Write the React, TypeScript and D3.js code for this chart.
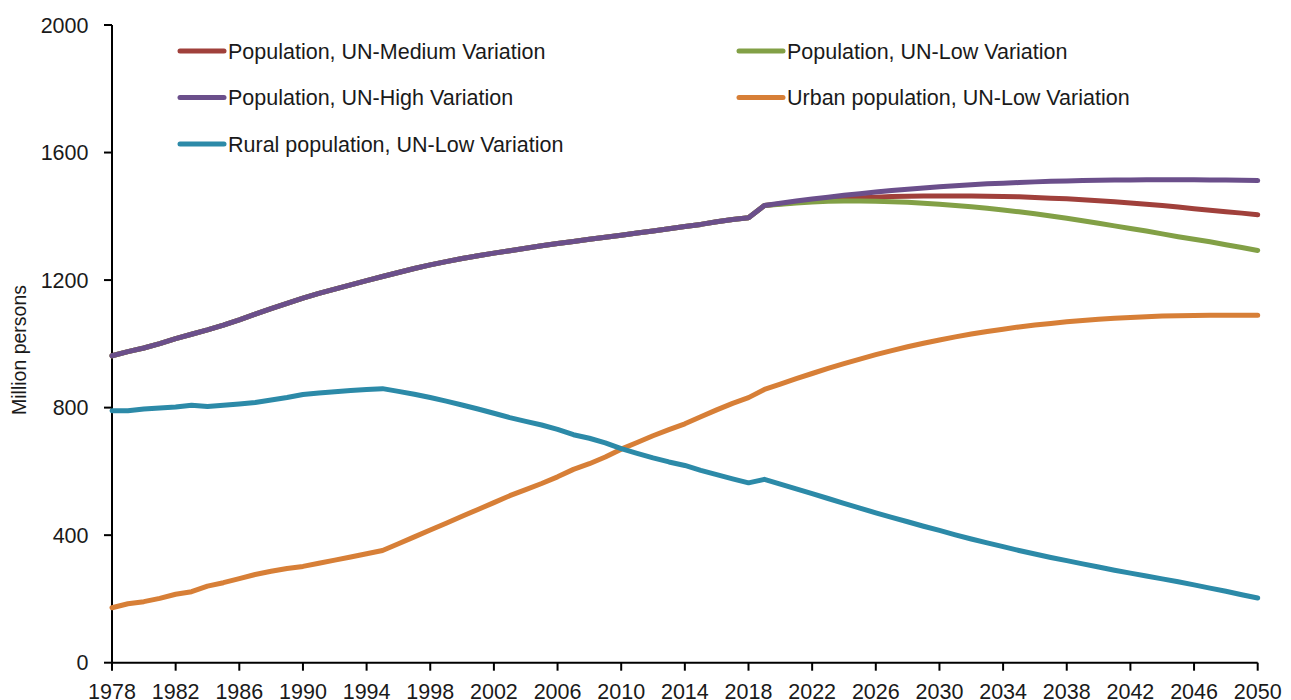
import * as d3 from 'd3'

// historical years 1978-2018, projections 2019-2050
const histYears = d3.range(1978, 2019)
const projYears = d3.range(2019, 2051)

const totalHist = [962.59, 975.42, 987.05, 1000.72, 1016.54, 1030.08, 1043.57, 1058.51, 1075.07, 1093.0, 1110.26, 1127.04, 1143.33, 1158.23, 1171.71, 1185.17, 1198.5, 1211.21, 1223.89, 1236.26, 1247.61, 1257.86, 1267.43, 1276.27, 1284.53, 1292.27, 1299.88, 1307.56, 1314.48, 1321.29, 1328.02, 1334.5, 1340.91, 1347.35, 1354.04, 1360.72, 1367.82, 1374.62, 1382.71, 1390.08, 1395.38]
const urbanHist = [172.45, 184.95, 191.4, 201.71, 214.8, 222.74, 240.17, 250.94, 263.66, 276.74, 286.61, 295.4, 301.95, 312.03, 321.75, 331.73, 341.69, 351.74, 373.04, 394.49, 416.08, 437.48, 459.06, 480.64, 502.12, 523.76, 542.83, 562.12, 582.88, 606.33, 624.03, 645.12, 669.78, 690.79, 711.82, 731.11, 749.16, 771.16, 792.98, 813.47, 831.37]
const ruralHist = [790.14, 790.47, 795.65, 799.01, 801.74, 807.34, 803.4, 807.57, 811.41, 816.26, 823.65, 831.64, 841.38, 846.2, 849.96, 853.44, 856.81, 859.47, 850.85, 841.77, 831.53, 820.38, 808.37, 795.63, 782.41, 768.51, 757.05, 745.44, 731.6, 714.96, 703.99, 689.38, 671.13, 656.56, 642.22, 629.61, 618.66, 603.46, 589.73, 576.61, 564.01]

const mediumProj = [1434, 1439, 1444, 1448, 1452, 1455, 1458, 1460, 1462, 1463, 1464, 1464, 1464, 1464, 1463, 1462, 1461, 1459, 1457, 1455, 1452, 1449, 1446, 1442, 1438, 1434, 1429, 1424, 1419, 1414, 1410, 1405]
const lowProj = [1434, 1438, 1442, 1445, 1447, 1448, 1448, 1447, 1446, 1444, 1441, 1438, 1434, 1430, 1425, 1420, 1414, 1408, 1401, 1394, 1386, 1378, 1370, 1362, 1354, 1345, 1336, 1328, 1320, 1311, 1302, 1293]
const highProj = [1434, 1441, 1448, 1454, 1460, 1466, 1471, 1476, 1481, 1485, 1489, 1493, 1496, 1499, 1502, 1504, 1506, 1508, 1510, 1511, 1512, 1513, 1514, 1514, 1515, 1515, 1515, 1515, 1514, 1514, 1513, 1512]
const urbanProj = [857, 874, 891, 907, 923, 938, 952, 966, 979, 991, 1002, 1012, 1022, 1031, 1039, 1046, 1053, 1059, 1064, 1069, 1073, 1077, 1080, 1083, 1085, 1087, 1088, 1089, 1090, 1090, 1090, 1090]
const ruralProj = [575, 560, 545, 530, 515, 500, 485, 470, 456, 442, 428, 415, 401, 388, 376, 364, 352, 341, 330, 320, 310, 300, 290, 281, 272, 263, 254, 244, 234, 224, 213, 203]

const seriesNames = [
  'Population, UN-Medium Variation',
  'Population, UN-Low Variation',
  'Population, UN-High Variation',
  'Urban population, UN-Low Variation',
  'Rural population, UN-Low Variation',
]
const seriesColors = ['#A0403B', '#82A046', '#6B4F8B', '#D77F37', '#2C8AA8']
const seriesValues = [
  [...totalHist, ...mediumProj],
  [...totalHist, ...lowProj],
  [...totalHist, ...highProj],
  [...urbanHist, ...urbanProj],
  [...ruralHist, ...ruralProj],
]
const years = [...histYears, ...projYears]

const yTicks = [0, 400, 800, 1200, 1600, 2000]
const xTicks = d3.range(1978, 2051, 4)

const W = 1291
const H = 700
const FONT = '"Liberation Sans", Arial, sans-serif'

// legend placement: [lineStartX, rowY]
const legendPos = [
  [180, 51],
  [739, 51],
  [180, 97.5],
  [739, 97.5],
  [180, 144],
]

export default function App() {
  const x = d3.scaleLinear().domain([1978, 2050]).range([112, 1257.7])
  const y = d3.scaleLinear().domain([0, 2000]).range([662.7, 25])

  const line = d3.line<number>()
    .x((_, i) => x(years[i]))
    .y(d => y(d))

  return (
    <svg width={W} height={H} style={{ position: 'absolute', left: 0, top: 0, background: '#fff' }}
      fontFamily={FONT}>
      {/* y axis */}
      <line x1={x(1978)} x2={x(1978)} y1={y(0)} y2={y(2000)} stroke="#000" strokeWidth={2} />
      {yTicks.map(t => (
        <g key={t}>
          <line x1={104} x2={x(1978)} y1={y(t)} y2={y(t)} stroke="#000" strokeWidth={2} />
          <text x={88.5} y={y(t)} dy="0.35em" textAnchor="end" fontSize={21.5} fill="#1a1a1a">{t}</text>
        </g>
      ))}
      {/* x axis */}
      <line x1={x(1978)} x2={x(2050)} y1={y(0)} y2={y(0)} stroke="#000" strokeWidth={2} />
      {xTicks.map(t => (
        <g key={t}>
          <line x1={x(t)} x2={x(t)} y1={y(0)} y2={y(0) + 8} stroke="#000" strokeWidth={2} />
          <text x={x(t)} y={699} textAnchor="middle" fontSize={21.5} fill="#1a1a1a">{t}</text>
        </g>
      ))}
      <text transform={`translate(26,350) rotate(-90)`} textAnchor="middle" fontSize={19.5} fill="#1a1a1a">
        Million persons
      </text>

      {seriesValues.map((vals, i) => (
        <path key={i} d={line(vals) || ''} fill="none" stroke={seriesColors[i]} strokeWidth={5}
          strokeLinecap="round" strokeLinejoin="round" />
      ))}

      {seriesNames.map((name, i) => {
        const [lx, ly] = legendPos[i]
        return (
          <g key={name}>
            <line x1={lx} x2={lx + 44} y1={ly} y2={ly} stroke={seriesColors[i]} strokeWidth={5} strokeLinecap="round" />
            <text x={lx + 48} y={ly} dy="0.35em" fontSize={21.5} fill="#1a1a1a">{name}</text>
          </g>
        )
      })}
    </svg>
  )
}
